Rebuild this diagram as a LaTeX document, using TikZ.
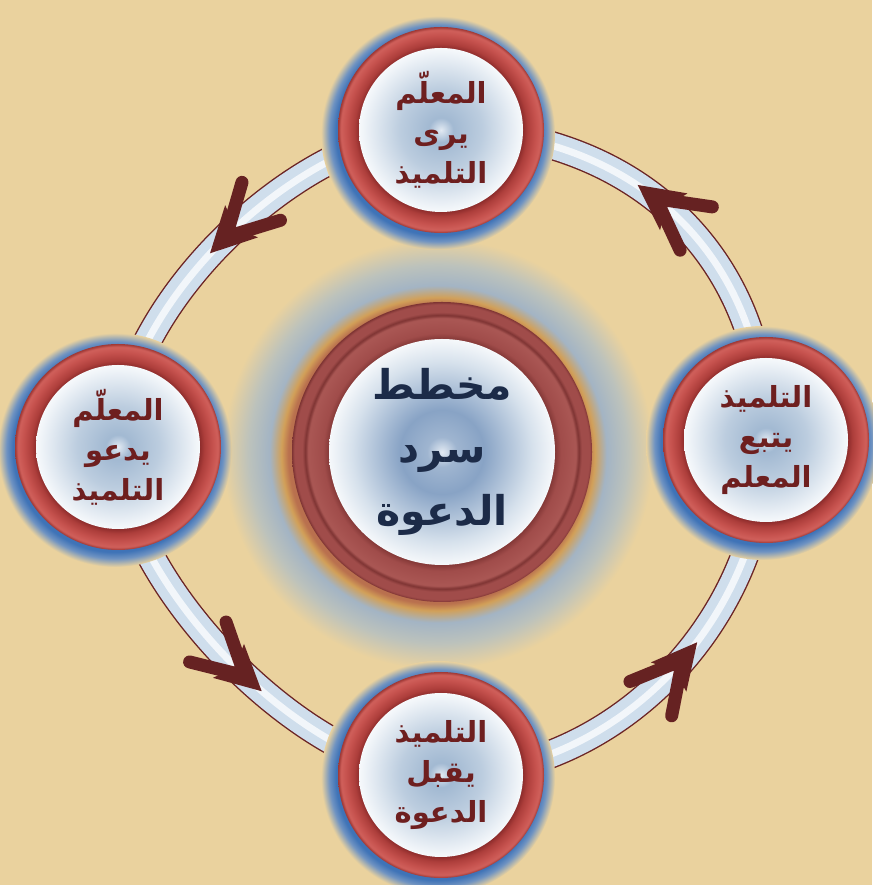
\documentclass[tikz,border=0pt]{standalone}
\usepackage{fontspec}
\newfontfamily\arabicfont[Script=Arabic]{DejaVu Sans}
\TeXXeTstate=1
\usetikzlibrary{decorations.markings}

\definecolor{paper}{HTML}{EAD29E}
\definecolor{bandedge}{HTML}{6B2424}
\definecolor{bandfill}{HTML}{CFDEEC}
\definecolor{bandlight}{HTML}{F2F6FA}
\definecolor{arrowred}{HTML}{662222}
\definecolor{stagetext}{HTML}{6E1F1F}
\definecolor{hubtext}{HTML}{1C2B48}
% ring and disc tones
\definecolor{ringdark}{HTML}{862828}
\definecolor{ringmid}{HTML}{AD3E3B}
\definecolor{ringred}{HTML}{C6524E}
\definecolor{ringlight}{HTML}{D0605B}
\definecolor{ringedge}{HTML}{9E3734}
\definecolor{discspot}{HTML}{E2EAF3}
\definecolor{discblue}{HTML}{A2B9D2}
\definecolor{discmid}{HTML}{BCCDDF}
\definecolor{discpale}{HTML}{F1F5F9}
\definecolor{discshade}{HTML}{B87C7A}
\definecolor{hubdark}{HTML}{7E3433}
\definecolor{hubred}{HTML}{A04C4A}
\definecolor{hublight}{HTML}{AA5754}
\definecolor{hubblue}{HTML}{88A3C5}
\definecolor{hubmid}{HTML}{9FB5D0}
\definecolor{hubpale}{HTML}{D6E1EC}
% glows
\definecolor{glowblue}{HTML}{3F73B7}
\definecolor{glowsoft}{HTML}{6F93C2}
\definecolor{halored}{HTML}{B9704E}
\definecolor{haloorange}{HTML}{D2A058}
\definecolor{halogrey}{HTML}{A3B4C4}
\definecolor{halomist}{HTML}{BCC2BC}

\pgfdeclarelayer{bg}
\pgfsetlayers{bg,main}

% shadings: the circle edge sits at 25bp
\pgfdeclareradialshading{stagering}{\pgfpoint{0bp}{0bp}}{color(0bp)=(ringdark); color(19.6bp)=(ringdark);
  color(21bp)=(ringmid); color(23bp)=(ringred); color(24.3bp)=(ringlight); color(25bp)=(ringedge); color(50bp)=(ringedge)}
\pgfdeclareradialshading{stagedisc}{\pgfpoint{0bp}{0bp}}{color(0bp)=(discspot); color(3bp)=(discblue); color(10bp)=(discmid);
  color(19bp)=(discpale); color(21.5bp)=(white); color(23.3bp)=(white); color(25bp)=(discshade); color(50bp)=(discshade)}
\pgfdeclareradialshading{hubring}{\pgfpoint{0bp}{0bp}}{color(0bp)=(hubdark); color(18.6bp)=(hubdark);
  color(19.8bp)=(hubred); color(22.3bp)=(hublight); color(22.8bp)=(hubdark); color(23.3bp)=(hubred); color(24.6bp)=(hubred); color(25bp)=(hubdark); color(50bp)=(hubdark)}
\pgfdeclareradialshading{hubdisc}{\pgfpoint{0bp}{0bp}}{color(0bp)=(discspot); color(2.5bp)=(hubmid); color(7bp)=(hubblue);
  color(15bp)=(hubpale); color(20bp)=(white); color(23.5bp)=(white); color(25bp)=(discshade); color(50bp)=(discshade)}
\pgfdeclareradialshading{stageglow}{\pgfpoint{0bp}{0bp}}{color(0bp)=(glowblue); color(21.8bp)=(glowblue);
  color(23.2bp)=(glowsoft); color(25bp)=(paper); color(50bp)=(paper)}
\pgfdeclareradialshading{hubhalo}{\pgfpoint{0bp}{0bp}}{color(0bp)=(halored); color(17.4bp)=(halored);
  color(18.2bp)=(haloorange); color(19.6bp)=(halogrey); color(22bp)=(halomist); color(25bp)=(paper); color(50bp)=(paper)}

\begin{document}
\begin{tikzpicture}[x=1pt,y=1pt,
  stage/.style={circle, minimum size=206pt, inner sep=0pt, shade, shading=stagering,
    path picture={\shade[shading=stagedisc] (path picture bounding box.center) circle (82pt);},
    text=stagetext, align=center, font=\arabicfont\bfseries\fontsize{29}{40}\selectfont},
  hub/.style={circle, minimum size=300pt, inner sep=0pt, shade, shading=hubring,
    path picture={\shade[shading=hubdisc] (path picture bounding box.center) circle (113pt);},
    text=hubtext, align=center, font=\arabicfont\bfseries\fontsize{41}{63}\selectfont},
  chevron/.style={draw=arrowred, line width=13pt, line cap=round, line join=round},
  band/.style={draw=bandfill, line width=26pt,
    preaction={draw=bandedge, line width=28.8pt},
    postaction={draw=bandlight, line width=7pt}},
  flow/.style={band, postaction={decorate, decoration={markings,
    mark=at position #1 with {
      \draw[chevron] (-58pt,27pt) -- (-8pt,0pt) -- (-58pt,-27pt);
      \fill[arrowred] (15pt,0pt) -- (-30pt,23pt) -- (-21pt,0pt) -- (-30pt,-23pt) -- cycle;}}}}]
\useasboundingbox (0,0) rectangle (872,885);
\begin{pgfonlayer}{bg}
\fill[paper] (0,0) rectangle (872,885);
\end{pgfonlayer}

% centre and the four stages
\node[hub] (hub) at (442,433) {\beginR مخطط\endR\\ \beginR سرد\endR\\ \beginR الدعوة\endR};
\node[stage] (see) at (441,755) {\beginR المعلّم\endR\\ \beginR يرى\endR\\ \beginR التلميذ\endR};
\node[stage] (invite) at (118,438) {\beginR المعلّم\endR\\ \beginR يدعو\endR\\ \beginR التلميذ\endR};
\node[stage] (accept) at (441,110) {\beginR التلميذ\endR\\ \beginR يقبل\endR\\ \beginR الدعوة\endR};
\node[stage] (follow) at (766,445) {\beginR التلميذ\endR\\ \beginR يتبع\endR\\ \beginR المعلم\endR};

% the ring, then the glows over its ends
\begin{pgfonlayer}{bg}
\draw[flow=0.52] (see.center) to[out=180,in=90,looseness=0.79] (invite.center);
\draw[flow=0.56] (invite.center) to[out=270,in=180,looseness=0.74] (accept.center);
\draw[flow=0.55] (accept.center) to[out=0,in=270,looseness=0.97] (follow.center);
\draw[flow=0.56] (follow.center) to[out=90,in=0,looseness=1.07] (see.center);
\shade[shading=hubhalo] ([shift={(-4,-2)}]hub.center) circle (215pt);
\foreach \n in {see,invite,accept,follow}
  \shade[shading=stageglow] ([shift={(-3,-3)}]\n.center) circle (117pt);
\end{pgfonlayer}
\end{tikzpicture}
\end{document}
